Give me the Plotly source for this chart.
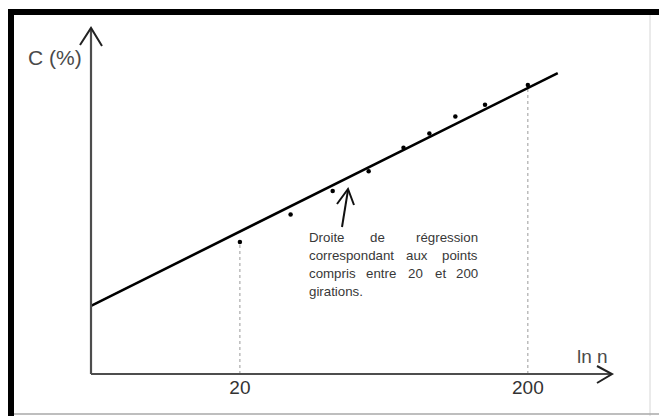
import numpy as np
import plotly.graph_objects as go

# Compactness C (%) measured against the number of gyrations n
n_girations = [20, 30, 42, 56, 74, 91, 112, 142, 200]
compacite = [84.0, 86.1, 87.9, 89.4, 91.2, 92.3, 93.6, 94.5, 96.0]

# Regression line C = a + b * ln(n), fitted on the 20..200 gyration range
reg_intercept = 70.5
reg_slope = 4.77
reg_n_end = 254

# Axis extents (n on a log scale, C in %)
x_range_n = [6.08, 392]
y_range = [73.9, 100.36]

tick_vals = [20, 200]
tick_text = ["20", "200"]

W, H = 659, 416
ML, MR, MT, MB = 91, 47, 28, 42
PW, PH = W - ML - MR, H - MT - MB


def paper(x, y):
    """Convert a pixel position on the page into paper coordinates."""
    return (x - ML) / PW, (H - MB - y) / PH


def seg(p0, p1, color, width, dash="solid"):
    x0, y0 = paper(*p0)
    x1, y1 = paper(*p1)
    return dict(type="line", xref="paper", yref="paper", x0=x0, y0=y0, x1=x1, y1=y1,
                line=dict(color=color, width=width, dash=dash), layer="above")


def polyline(points, color, width):
    pts = [paper(*p) for p in points]
    path = "M " + " L ".join(f"{x:.5f},{y:.5f}" for x, y in pts)
    return dict(type="path", xref="paper", yref="paper", path=path,
                line=dict(color=color, width=width), layer="above")


fig = go.Figure()

# Dotted guides from the 20 and 200 gyration points down to the axis
for n_mark in tick_vals:
    c_mark = compacite[n_girations.index(n_mark)]
    fig.add_trace(go.Scatter(
        x=[n_mark, n_mark], y=[y_range[0], c_mark], mode="lines",
        line=dict(color="#9a9a9a", width=1, dash="dot"), hoverinfo="skip",
        showlegend=False))

# Regression line, from the vertical axis to past the 200 gyration point
n_line = np.array([x_range_n[0], reg_n_end])
fig.add_trace(go.Scatter(
    x=n_line, y=reg_intercept + reg_slope * np.log(n_line), mode="lines",
    line=dict(color="black", width=2.6), showlegend=False, hoverinfo="skip"))

# Measured points
fig.add_trace(go.Scatter(
    x=n_girations, y=compacite, mode="markers",
    marker=dict(color="black", size=4.5), showlegend=False))

font_body = "Liberation Sans, Arial, sans-serif"

fig.update_layout(
    width=W, height=H,
    margin=dict(l=ML, r=MR, t=MT, b=MB),
    paper_bgcolor="white", plot_bgcolor="white",
    xaxis=dict(type="log", range=[np.log10(x_range_n[0]), np.log10(x_range_n[1])],
               tickvals=tick_vals, ticktext=tick_text, showgrid=False, zeroline=False,
               showline=False, ticks="",
               tickfont=dict(family=font_body, size=19, color="#333333")),
    yaxis=dict(range=y_range, showgrid=False, zeroline=False, showline=False,
               showticklabels=False, ticks=""),
    shapes=[
        # page frame
        seg((8, 12), (659, 12), "black", 6),
        seg((11, 9), (11, 416), "black", 6),
        seg((650, 15), (650, 416), "#d6d6d6", 1),
        seg((14, 414), (659, 414), "#a8a8a8", 1.5),
        # axes with open arrowheads
        dict(type="line", xref="paper", yref="paper", x0=0, y0=0, x1=0, y1=1,
             line=dict(color="#4d4d4d", width=2.2), layer="above"),
        dict(type="line", xref="paper", yref="paper", x0=0, y0=0, x1=1, y1=0,
             line=dict(color="#4d4d4d", width=2.2), layer="above"),
        polyline([(80, 45), (91, 28), (102, 46)], "#222222", 2),
        polyline([(597, 366), (612, 374), (597, 383)], "#222222", 2),
        # pointer to the regression line
        seg((342, 227), (348, 190), "#111111", 2),
        polyline([(337, 204), (348, 189), (354, 205)], "#111111", 2),
    ],
)


def label(text, x, y, size, anchor="left", color="#383838", family=font_body):
    px_, py_ = paper(x, y)
    fig.add_annotation(text=text, x=px_, y=py_, xref="paper", yref="paper",
                       xanchor=anchor, yanchor="middle", showarrow=False,
                       font=dict(family=family, size=size, color=color))


label("C (%)", 55, 57, 21, "center", "#4a4a4a")
label("ln n", 592, 356, 19, "center", "#4a4a4a")

# Justified caption: each word is placed along its line
caption_size = 13.3
label("Droite", 307, 237, caption_size)
label("de", 377, 237, caption_size, "center")
label("régression", 480, 237, caption_size, "right")
label("correspondant", 307, 255, caption_size)
label("aux", 417, 255, caption_size, "center")
label("points", 480, 255, caption_size, "right")
label("compris", 307, 273, caption_size)
label("entre", 381, 273, caption_size, "center")
label("20", 415, 273, caption_size, "center")
label("et", 440, 273, caption_size, "center")
label("200", 480, 273, caption_size, "right")
label("girations.", 307, 291, caption_size)

fig.write_html("out.html")
